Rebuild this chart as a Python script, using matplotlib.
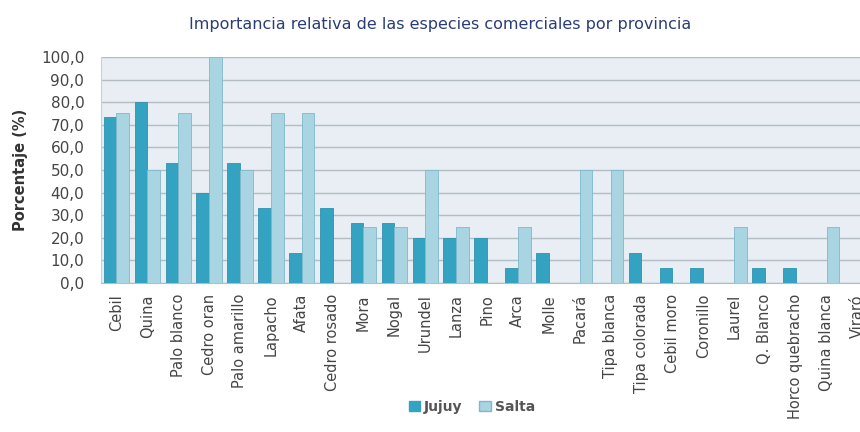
import numpy as np
import matplotlib
matplotlib.use('Agg')
import matplotlib.pyplot as plt
from matplotlib.patches import Patch

# Especies (the last one is cut off at the right edge of the original)
especies = ['Cebil', 'Quina', 'Palo blanco', 'Cedro oran', 'Palo amarillo', 'Lapacho',
            'Afata', 'Cedro rosado', 'Mora', 'Nogal', 'Urundel', 'Lanza', 'Pino', 'Arca',
            'Molle', 'Pacará', 'Tipa blanca', 'Tipa colorada', 'Cebil moro', 'Coronillo',
            'Laurel', 'Q. Blanco', 'Horco quebracho', 'Quina blanca', 'Viraró']
jujuy = [73.3, 80.0, 53.3, 40.0, 53.3, 33.3, 13.3, 33.3, 26.7, 26.7, 20.0, 20.0, 20.0, 6.7,
         13.3, 0.0, 0.0, 13.3, 6.7, 6.7, 0.0, 6.7, 6.7, 0.0, 0.0]
salta = [75.0, 50.0, 75.0, 100.0, 50.0, 75.0, 75.0, 0.0, 25.0, 25.0, 50.0, 25.0, 0.0, 25.0,
         0.0, 50.0, 50.0, 0.0, 0.0, 0.0, 25.0, 0.0, 0.0, 25.0, 0.0]
yticks = np.arange(0, 101, 10)

C_JUJUY = '#34a3c2'
C_SALTA = '#a9d4e2'
TXT = '#454545'

fig = plt.figure(figsize=(8.6, 4.32), dpi=100)
# plot area runs past the right edge, as in the cropped original
ax = fig.add_axes([101 / 860, 149 / 432, 772 / 860, 226 / 432])
ax.set_facecolor('#e8eef3')

x = np.arange(len(especies))
w = 0.41
ax.bar(x - w / 2, jujuy, w, color=C_JUJUY, edgecolor='#2f93b0', linewidth=0.6, zorder=3)
ax.bar(x + w / 2, salta, w, color=C_SALTA, edgecolor='#7fb8cb', linewidth=0.6, zorder=3)

ax.set_xlim(-0.5, len(especies) - 0.5)
ax.set_ylim(0, 100)
ax.set_yticks(yticks)
ax.set_yticklabels([('%.1f' % v).replace('.', ',') for v in yticks], fontsize=11, color=TXT)
ax.set_xticks(x)
ax.set_xticklabels(especies, rotation=90, fontsize=10.5, color=TXT)
ax.tick_params(axis='x', length=0, pad=8)
ax.tick_params(axis='y', length=0, pad=12)

ax.grid(axis='y', color='#b4bcc4', linewidth=1.0, zorder=1)
for s in ['top', 'right']:
    ax.spines[s].set_visible(False)
ax.spines['bottom'].set_color('#b4bcc4')
ax.spines['left'].set_color('#c8d0d8')

ax.set_ylabel('Porcentaje (%)', fontsize=10.5, fontweight='bold', color='#333333', labelpad=9)

fig.text(440 / 860, 1 - 24 / 432, 'Importancia relativa de las especies comerciales por provincia',
         ha='center', va='center', fontsize=11.5, color='#2a3d78')

handles = [Patch(facecolor=C_JUJUY, edgecolor=C_JUJUY), Patch(facecolor=C_SALTA, edgecolor='#7fb8cb')]
leg = fig.legend(handles, ['Jujuy', 'Salta'], loc='center', bbox_to_anchor=(472 / 860, 1 - 407 / 432),
                 ncol=2, frameon=False, fontsize=10, handlelength=0.8, handleheight=0.8,
                 handletextpad=0.3, columnspacing=1.2)
for t in leg.get_texts():
    t.set_color('#555555')
    t.set_fontweight('bold')

plt.savefig('out.png', dpi=100)
